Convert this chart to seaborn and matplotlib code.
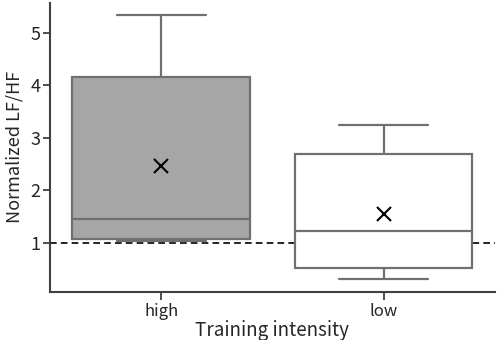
import pandas as pd
import matplotlib.pyplot as plt
import seaborn as sns

# sample values chosen so the quartiles, whiskers and mean match
groups = ['high', 'low']
high_values = [1.04, 1.05, 1.076, 1.20, 1.46, 2.30, 4.16, 4.614, 5.33]
low_values = [0.32, 0.40, 0.52, 0.80, 1.22, 1.80, 2.70, 2.94, 3.25]
box_colors = ['#a6a6a6', '#ffffff']
y_ticks = [1, 2, 3, 4, 5]

df = pd.DataFrame({
    'group': ['high'] * len(high_values) + ['low'] * len(low_values),
    'value': high_values + low_values,
})

sns.set_style('ticks')
plt.rcParams['font.family'] = ['Noto Sans CJK JP', 'DejaVu Sans']

fig = plt.figure(figsize=(4.98, 3.4), dpi=100)
ax = fig.add_axes([0.1004, 0.142, 0.893, 0.85])

line_c = '#707070'
sns.boxplot(
    data=df, x='group', y='value', hue='group', order=groups,
    palette=dict(zip(groups, box_colors)), legend=False,
    whis=(0, 100), width=0.8, linewidth=1.6, linecolor=line_c,
    showmeans=True,
    meanprops=dict(marker='x', markeredgecolor='black', markersize=10, markeredgewidth=1.5),
    ax=ax,
)
ax.axhline(1, color='black', lw=1.2, ls=(0, (4, 2.5)), zorder=1)

ax.set_xlim(-0.5, 1.5)
ax.set_ylim(0.07, 5.57)
ax.set_yticks(y_ticks)
ax.set_xlabel('Training intensity', fontsize=13.5, labelpad=0)
ax.set_ylabel('Normalized LF/HF', fontsize=13, labelpad=5)
ax.tick_params(axis='y', labelsize=13, length=5, width=1.3, color='#404040', pad=2)
ax.tick_params(axis='x', labelsize=12, length=6, width=1.3, color='#404040', pad=2)
for s in ['top', 'right']:
    ax.spines[s].set_visible(False)
for s in ['left', 'bottom']:
    ax.spines[s].set_linewidth(1.5)
    ax.spines[s].set_color('#404040')

fig.savefig('out.png', dpi=100)
